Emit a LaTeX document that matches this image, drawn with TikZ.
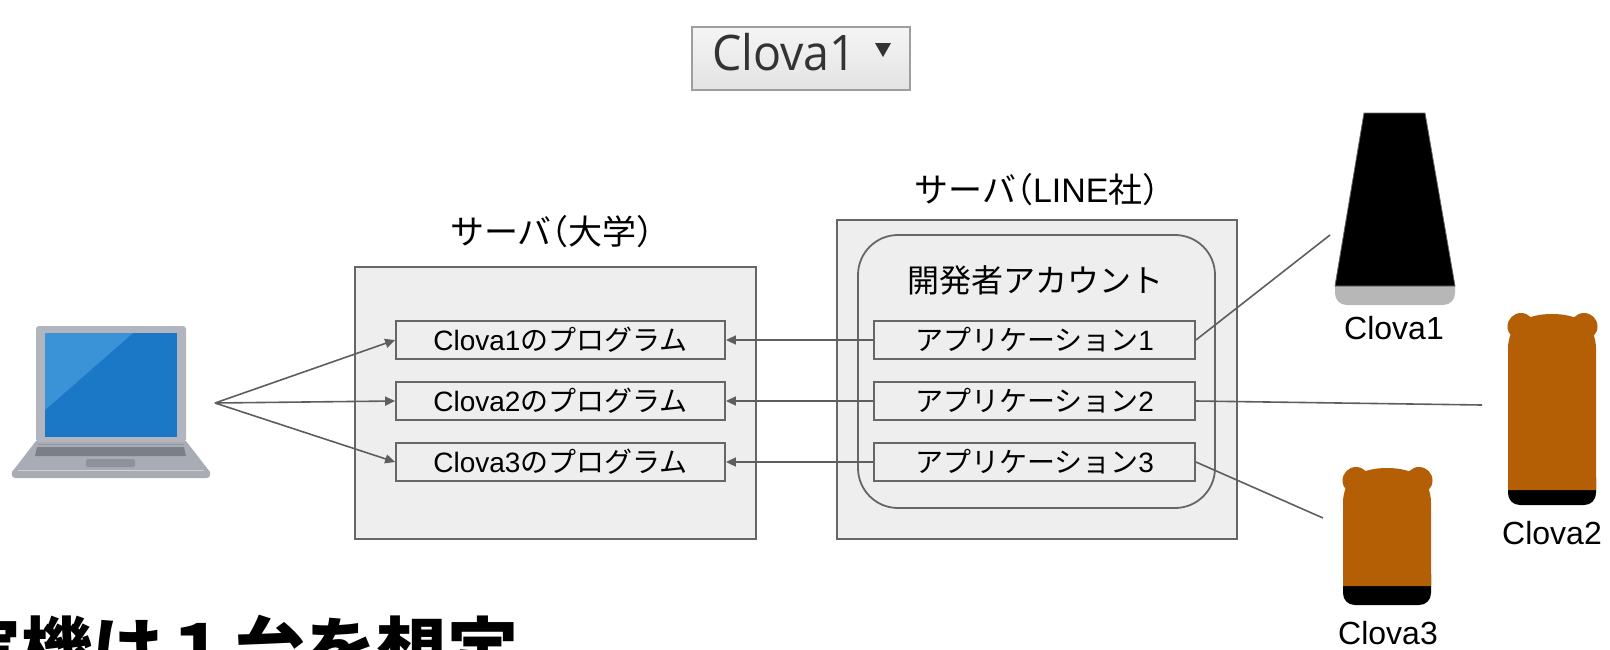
\documentclass[tikz,border=0pt]{standalone}
\usepackage{fontspec}
\usepackage{graphicx}
\usetikzlibrary{arrows.meta}
\setmainfont{Liberation Sans}
\newfontfamily\jp{Noto Sans CJK JP}
\newfontfamily\uifont{Open Sans}

\definecolor{panel}{HTML}{EEEEEE}
\definecolor{edge}{HTML}{666666}
\definecolor{wire}{HTML}{5E5E5E}
\definecolor{bearbrown}{HTML}{B45F06}
\definecolor{basegray}{HTML}{B7B7B7}
\definecolor{frame}{HTML}{B2B5BE}
\definecolor{deck}{HTML}{A8ACB5}
\definecolor{screenblue}{HTML}{1B78C7}
\definecolor{screenlight}{HTML}{3A93D6}
\definecolor{keys}{HTML}{7B7F88}

% half-width brackets inside Japanese text
\newcommand\lpar{\hspace*{-0.5em}（}
\newcommand\rpar{）\hspace*{-0.5em}}

\tikzset{
  server/.style={draw=edge, fill=panel, line width=1.8pt, inner sep=0pt},
  item/.style={draw=edge, fill=panel, line width=1.8pt, inner sep=0pt,
    minimum height=38pt, font=\fontsize{28}{30}\selectfont},
  heading/.style={inner sep=0pt, font=\fontsize{34}{38}\selectfont},
  devlabel/.style={inner sep=0pt, font=\fontsize{32}{36}\selectfont},
  link/.style={draw=wire, line width=1.6pt},
  arr/.style={link, -{Triangle[length=10pt,width=9pt]}},
}

% Clova Friends speaker: #1 left, #2 top, #3 end of brown body, #4 bottom (relative)
\newcommand\clovabear[4]{%
  \begin{scope}[shift={(#1,#2)}]
    \fill[black] (0,#3-12) -- (0,#4-12) .. controls (0,#4-5) and (5,#4) .. (12,#4)
      -- (76,#4) .. controls (83,#4) and (88,#4-5) .. (88,#4-12) -- (88,#3-12) -- cycle;
    \fill[bearbrown] (0,#3) -- (0,36) .. controls (0,10) and (20,1) .. (44,1)
      .. controls (68,1) and (88,10) .. (88,36) -- (88,#3) -- cycle;
    \fill[bearbrown] (13,13.5) circle[radius=13.5];
    \fill[bearbrown] (76,13.5) circle[radius=13.5];
  \end{scope}}

\begin{document}
\begin{tikzpicture}[x=1pt, y=-1pt]
\useasboundingbox (0,0) rectangle (1610,649);
\clip (0,0) rectangle (1610,649);
\fill[white] (0,0) rectangle (1610,649);

% selector at the top
\node[draw=black!38, line width=1.5pt, top color=black!4, bottom color=black!11,
      minimum width=218pt, minimum height=63pt, inner sep=0pt] (selector) at (801,58.5) {};
\node[anchor=base west, inner sep=0pt, text=black!80,
      font=\uifont\fontsize{49}{52}\selectfont] (seltext) at (712,70)
      {\scalebox{0.95}[1]{Clova1}};
\fill[black!80] (875,43) -- (891,43) -- (883,57) -- cycle;

% laptop
\begin{scope}
  \fill[deck] (36,441) -- (186,441) -- (210,472) .. controls (211,476) and (209,478) .. (206,478)
    -- (16,478) .. controls (13,478) and (11,476) .. (12,472) -- cycle;
  \fill[frame, rounded corners=3pt] (36,326) rectangle (186,442);
  \fill[screenblue] (45,333) rectangle (177,437);
  \fill[screenlight] (45,333) -- (133,333) -- (45,410) -- cycle;
  \draw[keys!80, line width=0.8pt] (38,444) -- (184,444);
  \fill[keys] (37,447) -- (184,447) -- (186,456) -- (35,456) -- cycle;
  \fill[keys!85, rounded corners=1.5pt] (86,459) rectangle (135,467);
  \draw[black!18, line width=1pt] (18,470.5) -- (204,470.5);
\end{scope}
\coordinate (hub) at (215,403);

% university server
\node[server, minimum width=401pt, minimum height=272pt] (univ) at (555.5,403) {};
\node[heading] (univtitle) at (552,232) {\jp サーバ\lpar 大学\rpar};
\node[item, minimum width=329pt] (p1) at (560.5,340) {Clova1{\jp のプログラム}};
\node[item, minimum width=329pt] (p2) at (560.5,401) {Clova2{\jp のプログラム}};
\node[item, minimum width=329pt] (p3) at (560.5,462) {Clova3{\jp のプログラム}};

% LINE server
\node[server, minimum width=400pt, minimum height=319pt] (line) at (1037,379.5) {};
\node[heading] (linetitle) at (1037,190) {{\jp サーバ\lpar}LINE{\jp 社\rpar}};
\node[server, rounded corners=40pt, minimum width=357pt, minimum height=273pt] (account)
  at (1036.5,371.5) {};
\node[devlabel] (accounttitle) at (1035,280) {\jp 開発者アカウント};
\node[item, minimum width=321pt] (a1) at (1034.5,340) {{\jp アプリケーション}1};
\node[item, minimum width=321pt] (a2) at (1034.5,401) {{\jp アプリケーション}2};
\node[item, minimum width=321pt] (a3) at (1034.5,462) {{\jp アプリケーション}3};

% program deployment and webhook arrows
\draw[arr] (hub) -- (p1.west);
\draw[arr] (hub) -- (p2.west);
\draw[arr] (hub) -- (p3.west);
\draw[arr] (a1.west) -- (p1.east);
\draw[arr] (a2.west) -- (p2.east);
\draw[arr] (a3.west) -- (p3.east);

% devices
\fill[basegray] (1335,286) -- (1335,293) .. controls (1335,300) and (1340,305) .. (1347,305)
  -- (1443,305) .. controls (1450,305) and (1455,300) .. (1455,293) -- (1455,286) -- cycle;
\filldraw[fill=black, draw=black!60, line width=0.8pt]
  (1364,113) -- (1425,113) -- (1455,286) -- (1335,286) -- cycle;
\node[devlabel] (c1) at (1394,328) {Clova1};
\coordinate (c1end) at (1330,235);

\clovabear{1508}{313}{177}{192}
\node[devlabel] (c2) at (1552,533) {Clova2};
\coordinate (c2end) at (1482,405);

\clovabear{1343}{467}{119}{138}
\node[devlabel] (c3) at (1388,633) {Clova3};
\coordinate (c3end) at (1323,518);

\draw[link] (a1.east) -- (c1end);
\draw[link] (a2.east) -- (c2end);
\draw[link] (a3.east) -- (c3end);

% caption running off the lower edge
\node[anchor=base west, inner sep=0pt, font=\jp\bfseries\fontsize{71}{74}\selectfont]
  (caption) at (-50,676) {実機は１台を想定};
\end{tikzpicture}
\end{document}
